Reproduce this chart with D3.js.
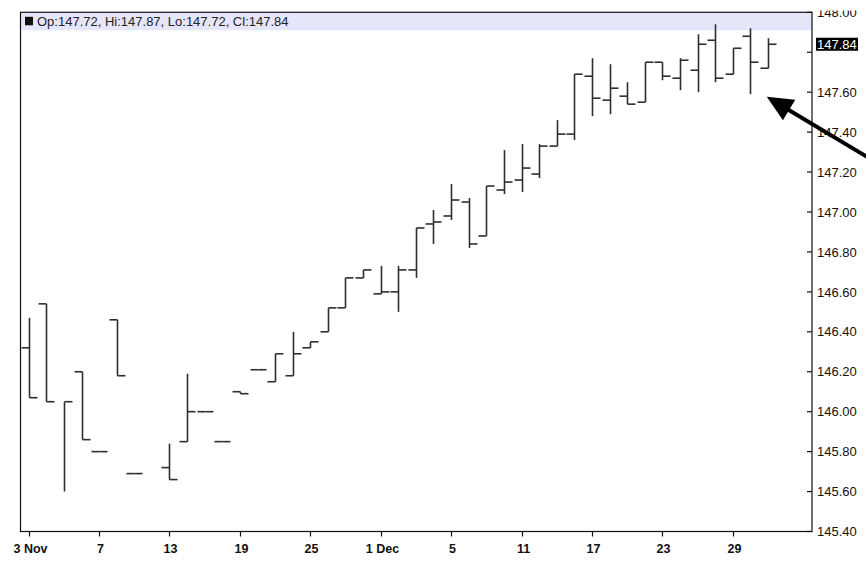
<!DOCTYPE html>
<html><head><meta charset="utf-8">
<script src="https://cdn.jsdelivr.net/npm/d3@7"></script>
<style>
html,body{margin:0;padding:0;background:#fff;}
svg{display:block;}
text{font-family:"Liberation Sans",Arial,sans-serif;}
</style></head>
<body>
<svg id="chart" width="866" height="562"></svg>
<script>
// ---- data ----
const dates = ["2008-11-03","2008-11-04","2008-11-05","2008-11-06","2008-11-07",
 "2008-11-10","2008-11-11","2008-11-12","2008-11-13","2008-11-14",
 "2008-11-17","2008-11-18","2008-11-19","2008-11-20","2008-11-21",
 "2008-11-24","2008-11-25","2008-11-26","2008-11-27","2008-11-28",
 "2008-12-01","2008-12-02","2008-12-03","2008-12-04","2008-12-05",
 "2008-12-08","2008-12-09","2008-12-10","2008-12-11","2008-12-12",
 "2008-12-15","2008-12-16","2008-12-17","2008-12-18","2008-12-19",
 "2008-12-22","2008-12-23","2008-12-24","2008-12-25","2008-12-26",
 "2008-12-29","2008-12-30","2008-12-31"];
const opens  = [146.32,146.54,null,146.20,145.80,146.46,145.69,null,145.72,145.85,
 146.00,145.85,146.10,146.21,146.15,146.18,146.32,146.40,146.52,146.67,
 146.59,146.60,146.71,146.94,146.98,147.05,146.88,147.11,147.16,147.19,
 147.33,147.39,147.68,147.56,147.58,147.55,147.75,147.67,147.71,147.86,
 147.69,147.88,147.72];
const highs  = [146.47,146.54,146.05,146.20,145.80,146.46,145.69,null,145.84,146.19,
 146.00,145.85,146.10,146.21,146.29,146.40,146.35,146.52,146.67,146.71,
 146.73,146.73,146.92,147.01,147.14,147.07,147.13,147.31,147.34,147.34,
 147.46,147.69,147.77,147.74,147.65,147.75,147.75,147.77,147.89,147.94,
 147.82,147.92,147.87];
const lows   = [146.07,146.05,145.60,145.86,145.80,146.18,145.69,null,145.66,145.85,
 146.00,145.85,146.09,146.21,146.15,146.18,146.32,146.40,146.52,146.67,
 146.59,146.50,146.67,146.84,146.96,146.82,146.88,147.09,147.10,147.17,
 147.33,147.36,147.48,147.49,147.54,147.55,147.66,147.61,147.60,147.65,
 147.69,147.59,147.72];
const closes = [146.07,146.05,146.05,145.86,145.80,146.18,145.69,null,145.66,146.00,
 146.00,145.85,146.09,146.21,146.29,146.29,146.35,146.52,146.67,146.71,
 146.60,146.71,146.92,146.95,147.06,146.84,147.13,147.15,147.22,147.33,
 147.39,147.69,147.57,147.62,147.54,147.75,147.68,147.76,147.84,147.67,
 147.82,147.75,147.84];
const xTickDates  = ["2008-11-03","2008-11-07","2008-11-13","2008-11-19","2008-11-25",
 "2008-12-01","2008-12-05","2008-12-11","2008-12-17","2008-12-23","2008-12-29"];
const xTickLabels = ["3 Nov","7","13","19","25","1 Dec","5","11","17","23","29"];
const yTicks = [145.40,145.60,145.80,146.00,146.20,146.40,146.60,146.80,147.00,147.20,147.40,147.60,147.80,148.00];
const yDomain = [145.40,148.00];

// ---- layout ----
const L = 20.5, R = 812, T = 12.3, B = 531.5;
const svg = d3.select("#chart");
const x = d3.scalePoint().domain(dates).range([28.7, 767.9]);
const y = d3.scaleLinear().domain(yDomain).range([B, T]);
const bars = dates.map((d,i)=>({d, o:opens[i], h:highs[i], l:lows[i], c:closes[i]}))
  .filter(b=>b.h!=null);
const last = bars[bars.length-1];

// header band
svg.append("rect").attr("x",L).attr("y",T).attr("width",R-L).attr("height",18)
  .attr("fill","#e6e6fa");
svg.append("rect").attr("x",25).attr("y",T+4.5).attr("width",8).attr("height",8.5).attr("fill","#111");
svg.append("text").attr("x",37).attr("y",T+13.5).attr("font-size",13).attr("fill","#222")
  .text(`Op:${last.o.toFixed(2)}, Hi:${last.h.toFixed(2)}, Lo:${last.l.toFixed(2)}, Cl:${last.c.toFixed(2)}`);

// bars
const g = svg.append("g").attr("stroke","#2e2e2e").attr("stroke-width",1.6).attr("fill","none");
const tk = 8;
bars.forEach(b=>{
  const cx = Math.round(x(b.d))+0.5;
  if (b.h!==b.l) g.append("line").attr("x1",cx).attr("x2",cx).attr("y1",y(b.h)).attr("y2",y(b.l));
  if (b.o!=null) g.append("line").attr("x1",cx-tk).attr("x2",cx).attr("y1",y(b.o)).attr("y2",y(b.o));
  g.append("line").attr("x1",cx).attr("x2",cx+tk).attr("y1",y(b.c)).attr("y2",y(b.c));
});

// frame
svg.append("rect").attr("x",L).attr("y",T).attr("width",R-L).attr("height",B-T)
  .attr("fill","none").attr("stroke","#111").attr("stroke-width",1.2);

// y axis
const yAx = svg.append("g").attr("transform",`translate(${R},0)`);
yAx.append("defs").append("clipPath").attr("id","yclip").append("rect")
  .attr("x",0).attr("y",10.5).attr("width",60).attr("height",560);
yTicks.forEach(v=>{
  yAx.append("line").attr("x1",-5).attr("x2",0).attr("y1",y(v)).attr("y2",y(v))
    .attr("stroke","#111").attr("stroke-width",1.2);
  if (Math.abs(v-147.80)<1e-6) return;
  yAx.append("text").attr("x",5).attr("y",y(v)).attr("dy","0.36em").attr("font-size",13)
    .attr("fill","#111").attr("clip-path","url(#yclip)").text(v.toFixed(2));
});
// last close box
const lbl = yAx.append("g").attr("transform",`translate(4,${y(last.c)})`);
lbl.append("rect").attr("x",0).attr("y",-6.5).attr("width",42).attr("height",13).attr("fill","#000");
lbl.append("text").attr("x",1).attr("y",0).attr("dy","0.36em").attr("font-size",13)
  .attr("fill","#fff").text(last.c.toFixed(2));

// x axis
xTickDates.forEach((d,i)=>{
  const cx = Math.round(x(d))+0.5;
  svg.append("line").attr("x1",cx).attr("x2",cx).attr("y1",B).attr("y2",B+5)
    .attr("stroke","#111").attr("stroke-width",1.2);
  svg.append("text").attr("x",cx+1).attr("y",553).attr("text-anchor","middle")
    .attr("font-size",12.5).attr("font-weight","bold").attr("fill","#111").text(xTickLabels[i]);
});

// annotation arrow pointing at the recent bars
const tipX = x(dates[41]) + 16.5, tipY = y(147.60) + 4.5;
const dx = 0.857, dy = 0.514, hl = 26, hw = 12;
const bx = tipX + dx*hl, by = tipY + dy*hl;
svg.append("line").attr("x1",bx-2).attr("y1",by-1).attr("x2",tipX+dx*140).attr("y2",tipY+dy*140)
  .attr("stroke","#000").attr("stroke-width",4);
svg.append("path").attr("d",`M${tipX},${tipY}L${bx-dy*hw},${by+dx*hw}L${bx+dy*hw},${by-dx*hw}Z`)
  .attr("fill","#000");
</script>
</body></html>
